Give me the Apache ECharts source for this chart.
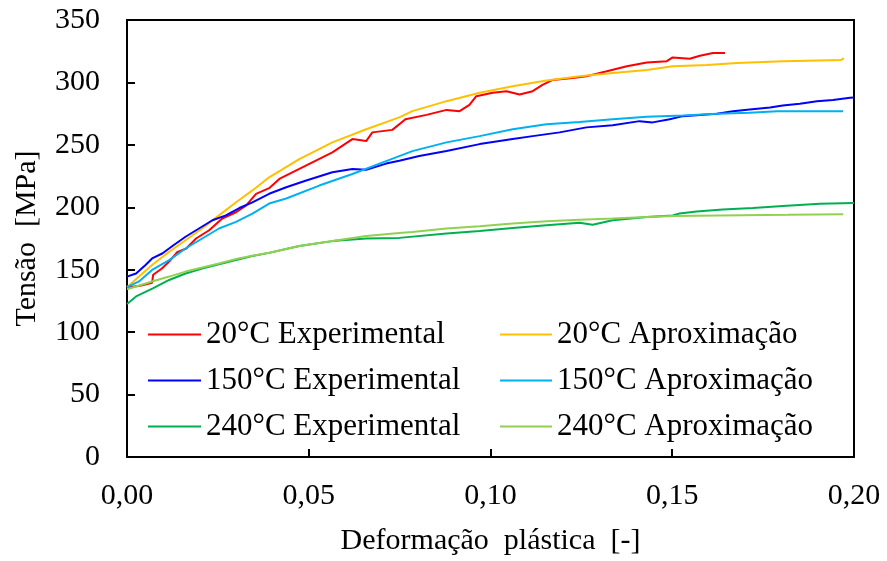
<!DOCTYPE html>
<html>
<head>
<meta charset="utf-8">
<script src="https://cdn.jsdelivr.net/npm/echarts@6/dist/echarts.min.js"></script>
<style>
  html, body { margin: 0; padding: 0; background: #fff; }
  #chart { width: 887px; height: 561px; }
</style>
</head>
<body>
<div id="chart"></div>
<script>
// Flow curves: plastic strain [-] vs. stress [MPa] at three temperatures
const seriesNames = [
  '20°C Experimental', '20°C Aproximação',
  '150°C Experimental', '150°C Aproximação',
  '240°C Experimental', '240°C Aproximação'
];
const seriesColors = ['#FF0000', '#FFC000', '#0000FF', '#00B0F0', '#00B050', '#92D050'];

const exp20Strain = [0.0000, 0.0033, 0.0069, 0.0072, 0.0096, 0.0116, 0.0138, 0.0163, 0.0190, 0.0226, 0.0262, 0.0300, 0.0328, 0.0355, 0.0391, 0.0419, 0.0474, 0.0510, 0.0565, 0.0620, 0.0658, 0.0675, 0.0730, 0.0766, 0.0824, 0.0879, 0.0915, 0.0942, 0.0961, 0.1006, 0.1044, 0.1080, 0.1116, 0.1143, 0.1171, 0.1226, 0.1264, 0.1320, 0.1375, 0.1430, 0.1485, 0.1501, 0.1548, 0.1576, 0.1612, 0.1645];
const exp20Stress = [136, 137, 139.5, 146, 151, 156.5, 164, 167, 175, 181.6, 191, 196, 201.5, 210.8, 215.3, 222.7, 230.7, 236, 244, 254.6, 253, 260, 262, 270.5, 274, 278, 277, 282, 289, 291.7, 293, 290.4, 293, 298, 302, 303.6, 305, 309, 313, 316, 317, 320, 319, 321.4, 323.6, 323.6];

const apr20Strain = [0.0000, 0.0033, 0.0069, 0.0116, 0.0163, 0.0207, 0.0253, 0.0300, 0.0345, 0.0391, 0.0474, 0.0565, 0.0658, 0.0749, 0.0785, 0.0879, 0.0970, 0.1061, 0.1154, 0.1245, 0.1336, 0.1430, 0.1501, 0.1595, 0.1678, 0.1804, 0.1965, 0.1972];
const apr20Stress = [136, 144.5, 153.8, 164.4, 174, 183, 193.5, 204, 213.5, 224, 238.6, 252, 262.5, 272, 277, 285, 291.7, 297, 301.5, 305, 307.6, 310, 313, 314, 315.5, 317, 318, 319.5];

const exp150Strain = [0.0000, 0.0025, 0.0051, 0.0069, 0.0097, 0.0125, 0.0161, 0.0198, 0.0235, 0.0272, 0.0309, 0.0345, 0.0391, 0.0438, 0.0493, 0.0565, 0.0620, 0.0658, 0.0713, 0.0749, 0.0804, 0.0879, 0.0970, 0.1061, 0.1116, 0.1190, 0.1264, 0.1336, 0.1410, 0.1446, 0.1493, 0.1529, 0.1623, 0.1667, 0.1713, 0.1769, 0.1804, 0.1851, 0.1898, 0.1942, 0.1989, 0.2000];
const exp150Stress = [144.5, 147, 153.8, 159, 163, 169, 176.4, 183, 189.6, 193.5, 199.4, 204, 210.8, 216, 221.4, 228, 230.7, 230, 235, 237.3, 241, 245, 250.6, 254.6, 257, 260, 264, 265.7, 269, 268, 270.5, 273, 275, 277, 278.4, 280, 281.6, 283, 285, 286, 287.7, 288];

const apr150Strain = [0.0000, 0.0033, 0.0069, 0.0116, 0.0161, 0.0207, 0.0253, 0.0300, 0.0345, 0.0391, 0.0438, 0.0529, 0.0620, 0.0713, 0.0749, 0.0785, 0.0879, 0.0970, 0.1061, 0.1154, 0.1245, 0.1336, 0.1430, 0.1529, 0.1623, 0.1713, 0.1788, 0.1970];
const apr150Stress = [136, 140.6, 149.8, 157.7, 167, 175, 183, 188.3, 195, 203, 207, 217.4, 226.7, 237, 241, 245, 252, 257, 262.5, 266.5, 268.3, 270.5, 272.6, 273.6, 275, 275.8, 277, 277];

const exp240Strain = [0.0000, 0.0025, 0.0071, 0.0116, 0.0161, 0.0207, 0.0253, 0.0300, 0.0345, 0.0391, 0.0474, 0.0565, 0.0658, 0.0749, 0.0879, 0.0970, 0.1061, 0.1154, 0.1245, 0.1281, 0.1336, 0.1430, 0.1501, 0.1520, 0.1567, 0.1639, 0.1722, 0.1804, 0.1906, 0.2000];
const exp240Stress = [122.5, 128.6, 135, 141.8, 147, 151, 154.3, 157.7, 161, 163.5, 169, 172.9, 175, 175.5, 179, 181, 183.5, 185.6, 187.7, 186, 189.6, 192.2, 193.5, 195, 196.7, 198.3, 199.4, 201, 202.8, 203.4];

const apr240Strain = [0.0000, 0.0025, 0.0069, 0.0116, 0.0161, 0.0207, 0.0253, 0.0300, 0.0345, 0.0391, 0.0474, 0.0565, 0.0658, 0.0749, 0.0785, 0.0879, 0.0970, 0.1061, 0.1154, 0.1245, 0.1336, 0.1430, 0.1501, 0.1818, 0.1970];
const apr240Stress = [134.4, 136.6, 140.6, 144.5, 148.5, 151.7, 155, 158.6, 161.2, 163.6, 169, 173, 177, 179.5, 180.3, 183, 184.8, 187, 188.8, 190, 191, 192.3, 193, 194, 194.5];

const xTicks = [0, 0.05, 0.10, 0.15, 0.20];
const yTicks = [0, 50, 100, 150, 200, 250, 300, 350];

const strainSets = [exp20Strain, apr20Strain, exp150Strain, apr150Strain, exp240Strain, apr240Strain];
const stressSets = [exp20Stress, apr20Stress, exp150Stress, apr150Stress, exp240Stress, apr240Stress];

const FONT = "'Liberation Serif', 'Times New Roman', serif";

const series = seriesNames.map((name, i) => ({
  name: name,
  type: 'line',
  data: strainSets[i].map((s, k) => [s, stressSets[i][k]]),
  symbol: 'none',
  showSymbol: false,
  smooth: false,
  lineStyle: { color: seriesColors[i], width: 2 },
  itemStyle: { color: seriesColors[i] },
  emphasis: { disabled: true }
}));

// Legend keys are short horizontal strokes in the series colour
const legendText = { fontFamily: FONT, fontSize: 31, color: '#000', lineHeight: 30 };
const legendCommon = {
  orient: 'vertical', top: 319, padding: 0,
  icon: 'rect', itemHeight: 2, itemGap: 15,
  textStyle: legendText, selectedMode: false
};

const chart = echarts.init(document.getElementById('chart'), null, { renderer: 'canvas' });
chart.setOption({
  animation: false,
  backgroundColor: '#fff',
  grid: {
    left: 127, top: 20, right: 33, bottom: 102,
    show: true, borderColor: '#000', borderWidth: 2, backgroundColor: 'transparent'
  },
  legend: [
    Object.assign({}, legendCommon, {
      data: [seriesNames[0], seriesNames[2], seriesNames[4]],
      left: 148, itemWidth: 53
    }),
    Object.assign({}, legendCommon, {
      data: [seriesNames[1], seriesNames[3], seriesNames[5]],
      left: 500, itemWidth: 52
    })
  ],
  xAxis: {
    type: 'value',
    min: xTicks[0], max: xTicks[xTicks.length - 1], interval: 0.05,
    name: 'Deformação  plástica  [-]',
    nameLocation: 'middle', nameGap: 69,
    nameTextStyle: { fontFamily: FONT, fontSize: 30, color: '#000' },
    axisLine: { show: true, lineStyle: { color: '#000', width: 2 } },
    axisTick: { show: true, inside: true, length: 8, lineStyle: { color: '#000', width: 2 } },
    axisLabel: {
      fontFamily: FONT, fontSize: 30, color: '#000', margin: 24,
      formatter: v => v.toFixed(2).replace('.', ',')
    },
    splitLine: { show: false }
  },
  yAxis: {
    type: 'value',
    min: yTicks[0], max: yTicks[yTicks.length - 1], interval: 50,
    name: 'Tensão  [MPa]',
    nameLocation: 'middle', nameGap: 85,
    nameTextStyle: { fontFamily: FONT, fontSize: 30, color: '#000' },
    axisLine: { show: true, lineStyle: { color: '#000', width: 2 } },
    axisTick: { show: true, inside: true, length: 8, lineStyle: { color: '#000', width: 2 } },
    axisLabel: { fontFamily: FONT, fontSize: 30, color: '#000', margin: 27 },
    splitLine: { show: false }
  },
  series: series
});
</script>
</body>
</html>
